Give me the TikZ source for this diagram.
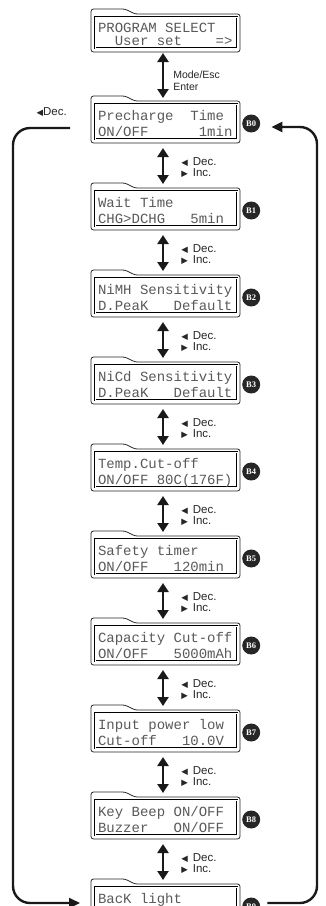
\documentclass[tikz,border=0pt]{standalone}
\usepackage{fontspec}
\setmainfont{Liberation Sans}
\newfontfamily\lcdfont{Liberation Mono}
\newfontfamily\tagfont{Liberation Serif}
\newfontfamily\symfont{DejaVu Sans}
\usetikzlibrary{arrows.meta, positioning, calc}

\newcommand{\decmark}{{\symfont\fontsize{8.5}{8.5}\selectfont ◀}}
\newcommand{\incmark}{{\symfont\fontsize{8.5}{8.5}\selectfont ▶}}
\newcommand{\decinc}{\decmark\hspace{5pt}Dec.\\\incmark\hspace{5pt}Inc.}

\begin{document}
\begin{tikzpicture}[
    x=1pt, y=1pt,
    lcd/.style={rectangle, draw=black, line width=0.6pt, double=white, double distance=0.9pt, outer sep=0pt,
        minimum width=142pt, text width=136pt, inner xsep=3pt, inner ysep=0pt, align=left,
        text height=16pt, text depth=19pt, text=black!65,
        font=\lcdfont\fontsize{14}{16}\selectfont,
        execute at begin node={\spaceskip=0pt\xspaceskip=0pt\relax}},
    frame/.style={draw=black!85, line width=0.8pt, rounded corners=2.5pt},
    tag/.style={circle, fill=black!85, text=white, inner sep=0pt, minimum size=18pt,
        font=\tagfont\bfseries\fontsize{8.5}{9}\selectfont},
    updown/.style={{Triangle[length=9pt,width=11pt]}-{Triangle[length=9pt,width=11pt]}, line width=2.6pt, black!90},
    keys/.style={anchor=west, inner sep=0pt, align=left, text=black!85, font=\fontsize{11.5}{11.3}\selectfont},
    loopline/.style={-{Triangle[length=11pt,width=10pt]}, line width=2.4pt, black!90, rounded corners=17pt}
]
\useasboundingbox (0,0) rectangle (325,-906);
\clip (0,0) rectangle (325,-906);

% --- program select screen ---
\node[lcd, text height=15.5pt, text depth=15.5pt, font=\lcdfont\fontsize{14}{13}\selectfont] (ps) at (166,-32.5)
    {PROGRAM SELECT\\~~User set~~~~=>};

% --- user set screens B0..B9 ---
\node[lcd, label={[tag, name=t0, label distance=5pt, yshift=-2pt]east:B0}] (b0) at (166,-121.5)
    {Precharge~~Time\\ON/OFF~~~~~~1min};
\node[lcd, below=52pt of b0, label={[tag, name=t1, label distance=5pt, yshift=-2pt]east:B1}] (b1)
    {Wait Time\\CHG>DCHG~~~5min};
\node[lcd, below=52pt of b1, label={[tag, name=t2, label distance=5pt, yshift=-2pt]east:B2}] (b2)
    {NiMH Sensitivity\\D.PeaK~~~Default};
\node[lcd, below=52pt of b2, label={[tag, name=t3, label distance=5pt, yshift=-2pt]east:B3}] (b3)
    {NiCd Sensitivity\\D.PeaK~~~Default};
\node[lcd, below=52pt of b3, label={[tag, name=t4, label distance=5pt, yshift=-2pt]east:B4}] (b4)
    {Temp.Cut-off\\ON/OFF 80C(176F)};
\node[lcd, below=52pt of b4, label={[tag, name=t5, label distance=5pt, yshift=-2pt]east:B5}] (b5)
    {Safety timer\\ON/OFF~~~120min};
\node[lcd, below=52pt of b5, label={[tag, name=t6, label distance=5pt, yshift=-2pt]east:B6}] (b6)
    {Capacity Cut-off\\ON/OFF~~~5000mAh};
\node[lcd, below=52pt of b6, label={[tag, name=t7, label distance=5pt, yshift=-2pt]east:B7}] (b7)
    {Input power low\\Cut-off~~~10.0V};
\node[lcd, below=52pt of b7, label={[tag, name=t8, label distance=5pt, yshift=-2pt]east:B8}] (b8)
    {Key Beep ON/OFF\\Buzzer~~~ON/OFF};
\node[lcd, below=52pt of b8, label={[tag, name=t9, label distance=5pt, yshift=-2pt]east:B9}] (b9)
    {BacK light\\~};

% outer case with the tab
\foreach \n in {ps,b0,b1,b2,b3,b4,b5,b6,b7,b8,b9}
    \draw[frame] ([shift={(-4,-4)}]\n.south west) -- ([shift={(-4,8)}]\n.north west)
        -- ([shift={(30,8)}]\n.north west) -- ([shift={(40,3)}]\n.north west)
        -- ([shift={(3,3)}]\n.north east) -- ([shift={(3,-4)}]\n.south east) -- cycle;

% --- key arrows ---
\draw[updown, shorten <=5pt, shorten >=6pt] ([xshift=-3pt]ps.south) -- ([xshift=-3pt]b0.north)
    node[midway, keys, xshift=9pt, yshift=-5pt, font=\fontsize{10.5}{12}\selectfont] {Mode/Esc\\Enter};
\foreach \a/\b in {b0/b1,b1/b2,b2/b3,b3/b4,b4/b5,b5/b6,b6/b7,b7/b8,b8/b9}
    \draw[updown, shorten <=9pt, shorten >=7pt] ([xshift=-3pt]\a.south) -- ([xshift=-3pt]\b.north)
        node[midway, keys, xshift=17pt, yshift=-2.5pt] {\decinc};

% --- wrap around ---
\coordinate (lside) at (13,-500);
\coordinate (rside) at (317,-500);
\draw[loopline] ([shift={(-25pt,-6.5pt)}]b0.west)
    node[anchor=south east, inner sep=0pt, xshift=-2pt, yshift=10pt, text=black!85, font=\fontsize{11.5}{12}\selectfont] {\decmark Dec.}
    -| (lside) |- ([shift={(-15pt,1.5pt)}]b9.west);
\draw[loopline] ([shift={(7pt,3.5pt)}]t9.east) -| (rside) |- ([shift={(11pt,-3.5pt)}]t0.east);

\end{tikzpicture}
\end{document}
